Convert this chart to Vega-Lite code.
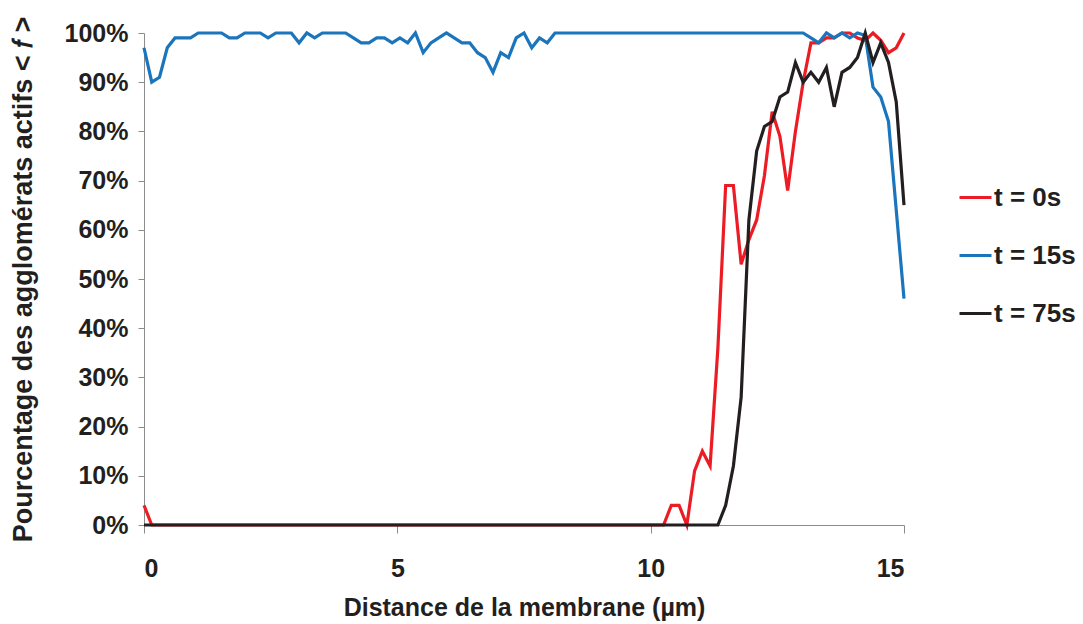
{
  "$schema": "https://vega.github.io/schema/vega-lite/v6.json",
  "width": 760,
  "height": 492,
  "autosize": {"type": "none"},
  "padding": {"left": 144, "top": 33, "right": 179, "bottom": 99},
  "background": "white",
  "config": {
    "view": {"stroke": null},
    "font": "Liberation Sans",
    "axis": {
      "grid": false,
      "domainColor": "#8c8c8c",
      "tickColor": "#8c8c8c",
      "domainWidth": 1,
      "tickWidth": 1,
      "labelFont": "Liberation Sans",
      "labelFontSize": 25,
      "labelFontWeight": "bold",
      "labelColor": "#231f20",
      "titleFont": "Liberation Sans",
      "titleFontWeight": "bold",
      "titleColor": "#231f20"
    }
  },
  "data": {
    "values": [
      {"x": 0, "t0": 0.04, "t15": 0.97, "t75": 0},
      {"x": 0.153, "t0": 0, "t15": 0.90, "t75": 0},
      {"x": 0.306, "t0": 0, "t15": 0.91, "t75": 0},
      {"x": 0.459, "t0": 0, "t15": 0.97, "t75": 0},
      {"x": 0.612, "t0": 0, "t15": 0.99, "t75": 0},
      {"x": 0.765, "t0": 0, "t15": 0.99, "t75": 0},
      {"x": 0.918, "t0": 0, "t15": 0.99, "t75": 0},
      {"x": 1.071, "t0": 0, "t15": 1, "t75": 0},
      {"x": 1.224, "t0": 0, "t15": 1, "t75": 0},
      {"x": 1.378, "t0": 0, "t15": 1, "t75": 0},
      {"x": 1.531, "t0": 0, "t15": 1, "t75": 0},
      {"x": 1.684, "t0": 0, "t15": 0.99, "t75": 0},
      {"x": 1.837, "t0": 0, "t15": 0.99, "t75": 0},
      {"x": 1.99, "t0": 0, "t15": 1, "t75": 0},
      {"x": 2.143, "t0": 0, "t15": 1, "t75": 0},
      {"x": 2.296, "t0": 0, "t15": 1, "t75": 0},
      {"x": 2.449, "t0": 0, "t15": 0.99, "t75": 0},
      {"x": 2.602, "t0": 0, "t15": 1, "t75": 0},
      {"x": 2.755, "t0": 0, "t15": 1, "t75": 0},
      {"x": 2.908, "t0": 0, "t15": 1, "t75": 0},
      {"x": 3.061, "t0": 0, "t15": 0.98, "t75": 0},
      {"x": 3.214, "t0": 0, "t15": 1, "t75": 0},
      {"x": 3.367, "t0": 0, "t15": 0.99, "t75": 0},
      {"x": 3.52, "t0": 0, "t15": 1, "t75": 0},
      {"x": 3.673, "t0": 0, "t15": 1, "t75": 0},
      {"x": 3.827, "t0": 0, "t15": 1, "t75": 0},
      {"x": 3.98, "t0": 0, "t15": 1, "t75": 0},
      {"x": 4.133, "t0": 0, "t15": 0.99, "t75": 0},
      {"x": 4.286, "t0": 0, "t15": 0.98, "t75": 0},
      {"x": 4.439, "t0": 0, "t15": 0.98, "t75": 0},
      {"x": 4.592, "t0": 0, "t15": 0.99, "t75": 0},
      {"x": 4.745, "t0": 0, "t15": 0.99, "t75": 0},
      {"x": 4.898, "t0": 0, "t15": 0.98, "t75": 0},
      {"x": 5.051, "t0": 0, "t15": 0.99, "t75": 0},
      {"x": 5.204, "t0": 0, "t15": 0.98, "t75": 0},
      {"x": 5.357, "t0": 0, "t15": 1, "t75": 0},
      {"x": 5.51, "t0": 0, "t15": 0.96, "t75": 0},
      {"x": 5.663, "t0": 0, "t15": 0.98, "t75": 0},
      {"x": 5.816, "t0": 0, "t15": 0.99, "t75": 0},
      {"x": 5.969, "t0": 0, "t15": 1, "t75": 0},
      {"x": 6.122, "t0": 0, "t15": 0.99, "t75": 0},
      {"x": 6.276, "t0": 0, "t15": 0.98, "t75": 0},
      {"x": 6.429, "t0": 0, "t15": 0.98, "t75": 0},
      {"x": 6.582, "t0": 0, "t15": 0.96, "t75": 0},
      {"x": 6.735, "t0": 0, "t15": 0.95, "t75": 0},
      {"x": 6.888, "t0": 0, "t15": 0.92, "t75": 0},
      {"x": 7.041, "t0": 0, "t15": 0.96, "t75": 0},
      {"x": 7.194, "t0": 0, "t15": 0.95, "t75": 0},
      {"x": 7.347, "t0": 0, "t15": 0.99, "t75": 0},
      {"x": 7.5, "t0": 0, "t15": 1, "t75": 0},
      {"x": 7.653, "t0": 0, "t15": 0.97, "t75": 0},
      {"x": 7.806, "t0": 0, "t15": 0.99, "t75": 0},
      {"x": 7.959, "t0": 0, "t15": 0.98, "t75": 0},
      {"x": 8.112, "t0": 0, "t15": 1, "t75": 0},
      {"x": 8.265, "t0": 0, "t15": 1, "t75": 0},
      {"x": 8.418, "t0": 0, "t15": 1, "t75": 0},
      {"x": 8.571, "t0": 0, "t15": 1, "t75": 0},
      {"x": 8.724, "t0": 0, "t15": 1, "t75": 0},
      {"x": 8.878, "t0": 0, "t15": 1, "t75": 0},
      {"x": 9.031, "t0": 0, "t15": 1, "t75": 0},
      {"x": 9.184, "t0": 0, "t15": 1, "t75": 0},
      {"x": 9.337, "t0": 0, "t15": 1, "t75": 0},
      {"x": 9.49, "t0": 0, "t15": 1, "t75": 0},
      {"x": 9.643, "t0": 0, "t15": 1, "t75": 0},
      {"x": 9.796, "t0": 0, "t15": 1, "t75": 0},
      {"x": 9.949, "t0": 0, "t15": 1, "t75": 0},
      {"x": 10.102, "t0": 0, "t15": 1, "t75": 0},
      {"x": 10.255, "t0": 0, "t15": 1, "t75": 0},
      {"x": 10.408, "t0": 0.04, "t15": 1, "t75": 0},
      {"x": 10.561, "t0": 0.04, "t15": 1, "t75": 0},
      {"x": 10.714, "t0": 0, "t15": 1, "t75": 0},
      {"x": 10.867, "t0": 0.11, "t15": 1, "t75": 0},
      {"x": 11.02, "t0": 0.15, "t15": 1, "t75": 0},
      {"x": 11.173, "t0": 0.12, "t15": 1, "t75": 0},
      {"x": 11.327, "t0": 0.36, "t15": 1, "t75": 0},
      {"x": 11.48, "t0": 0.69, "t15": 1, "t75": 0.04},
      {"x": 11.633, "t0": 0.69, "t15": 1, "t75": 0.12},
      {"x": 11.786, "t0": 0.53, "t15": 1, "t75": 0.26},
      {"x": 11.939, "t0": 0.58, "t15": 1, "t75": 0.62},
      {"x": 12.092, "t0": 0.62, "t15": 1, "t75": 0.76},
      {"x": 12.245, "t0": 0.71, "t15": 1, "t75": 0.81},
      {"x": 12.398, "t0": 0.84, "t15": 1, "t75": 0.82},
      {"x": 12.551, "t0": 0.79, "t15": 1, "t75": 0.87},
      {"x": 12.704, "t0": 0.68, "t15": 1, "t75": 0.88},
      {"x": 12.857, "t0": 0.80, "t15": 1, "t75": 0.94},
      {"x": 13.01, "t0": 0.90, "t15": 1, "t75": 0.90},
      {"x": 13.163, "t0": 0.98, "t15": 0.99, "t75": 0.92},
      {"x": 13.316, "t0": 0.98, "t15": 0.98, "t75": 0.90},
      {"x": 13.469, "t0": 0.99, "t15": 1, "t75": 0.93},
      {"x": 13.622, "t0": 0.99, "t15": 0.99, "t75": 0.85},
      {"x": 13.776, "t0": 1, "t15": 1, "t75": 0.92},
      {"x": 13.929, "t0": 1, "t15": 0.99, "t75": 0.93},
      {"x": 14.082, "t0": 0.99, "t15": 1, "t75": 0.95},
      {"x": 14.235, "t0": 0.985, "t15": 0.995, "t75": 1},
      {"x": 14.388, "t0": 1, "t15": 0.89, "t75": 0.94},
      {"x": 14.541, "t0": 0.985, "t15": 0.87, "t75": 0.98},
      {"x": 14.694, "t0": 0.96, "t15": 0.82, "t75": 0.94},
      {"x": 14.847, "t0": 0.97, "t15": 0.64, "t75": 0.86},
      {"x": 15, "t0": 1, "t15": 0.46, "t75": 0.65}
    ]
  },
  "transform": [
    {"fold": ["t0", "t15", "t75"], "as": ["serie", "v"]}
  ],
  "mark": {"type": "line", "strokeWidth": 3.2, "strokeJoin": "miter", "clip": false},
  "encoding": {
    "x": {
      "field": "x",
      "type": "quantitative",
      "scale": {"domain": [0, 15], "nice": false, "zero": false},
      "axis": {
        "values": [0, 5, 10, 15],
        "tickSize": 8,
        "labelPadding": 23,
        "title": "Distance de la membrane (µm)",
        "titleFontSize": 25,
        "titlePadding": 14
      }
    },
    "y": {
      "field": "v",
      "type": "quantitative",
      "scale": {"domain": [0, 1], "nice": false},
      "axis": {
        "values": [0, 0.1, 0.2, 0.3, 0.4, 0.5, 0.6, 0.7, 0.8, 0.9, 1],
        "format": ".0%",
        "tickSize": 6,
        "labelPadding": 10,
        "title": "Pourcentage des agglomérats actifs < 𝑓 >",
        "titleFontSize": 27,
        "titlePadding": 27
      }
    },
    "color": {
      "field": "serie",
      "type": "nominal",
      "scale": {"domain": ["t0", "t15", "t75"], "range": ["#ed1c24", "#1b75bc", "#231f20"]},
      "legend": {
        "title": null,
        "orient": "none",
        "legendX": 814,
        "legendY": 147,
        "symbolType": "stroke",
        "symbolSize": 1024,
        "symbolStrokeWidth": 3,
        "labelFont": "Liberation Sans",
        "labelFontSize": 26,
        "labelFontWeight": "bold",
        "labelColor": "#231f20",
        "labelOffset": 1,
        "rowPadding": 27,
        "labelExpr": "{'t0': 't = 0s', 't15': 't = 15s', 't75': 't = 75s'}[datum.label]"
      }
    }
  }
}
